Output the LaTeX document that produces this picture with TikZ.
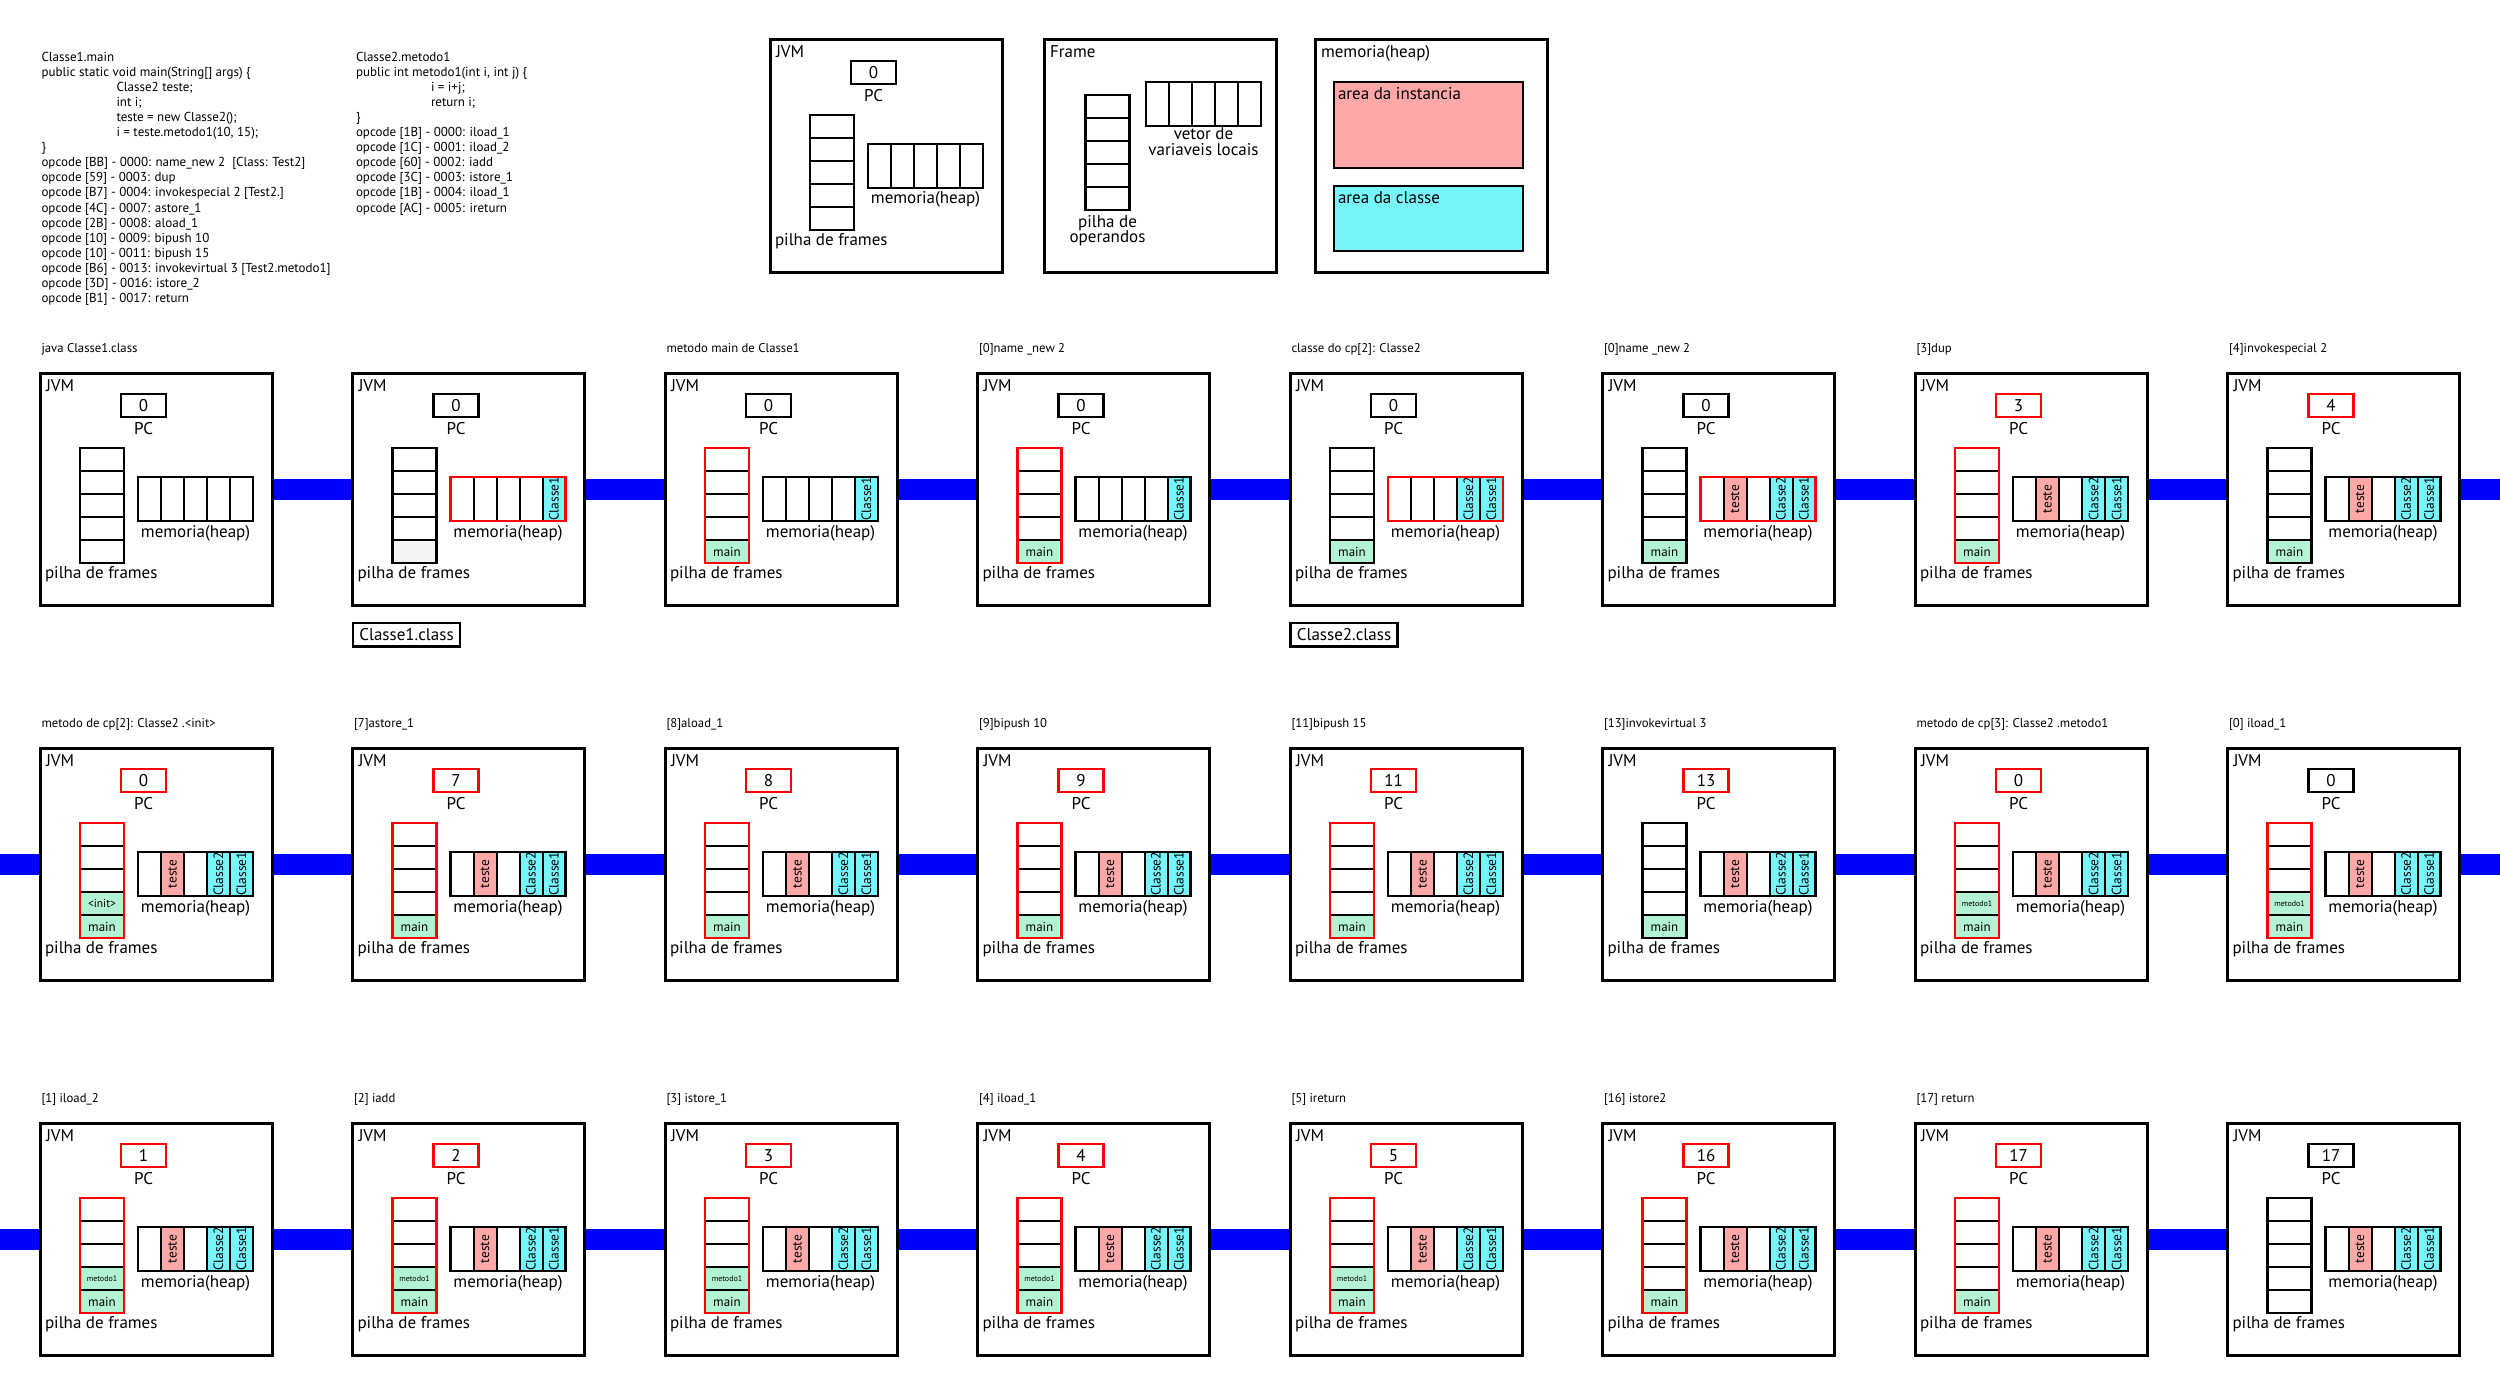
\documentclass[tikz,border=0pt]{standalone}
\usepackage{fontspec}
\setmainfont{PT Sans}
\pgfdeclarelayer{bg}
\pgfsetlayers{bg,main}
\definecolor{mint}{RGB}{180,242,212}
\definecolor{pinkc}{RGB}{255,168,168}
\definecolor{cyanc}{RGB}{120,245,250}
\definecolor{barblue}{RGB}{0,0,255}
\definecolor{grayc}{RGB}{244,244,244}
\tikzset{
 every node/.style={inner sep=0pt, outer sep=0pt},
 jvmbox/.style={draw, line width=3pt, minimum width=232pt, minimum height=232pt},
 boxtxt/.style={font=\fontsize{17}{17}\selectfont},
 steplbl/.style={font=\fontsize{12.7}{13}\selectfont, anchor=base west},
 codetxt/.style={font=\fontsize{13}{15}\selectfont, anchor=base west},
 pcbox/.style={draw, line width=2.5pt, minimum width=45pt, minimum height=23pt, font=\fontsize{17}{17}\selectfont},
 scell/.style={draw, line width=2pt, minimum width=44pt, minimum height=23pt},
 hcell/.style={draw, line width=2pt, minimum width=23pt, minimum height=44pt, font=\fontsize{13.5}{13.5}\selectfont},
 outline/.style={line width=2.5pt},
 filebox/.style={draw, line width=2.5pt, minimum width=107pt, minimum height=23.5pt, anchor=north west, font=\fontsize{17}{17}\selectfont},
 bar/.style={draw=barblue, line width=21pt},
}
% stack contents
\newcommand\Main{\node[scell, fill=mint, font=\fontsize{13}{13}\selectfont] (\cur-f5) at (62,178.5) {main};}
\newcommand\InitMain{\Main\node[scell, fill=mint, font=\fontsize{11.5}{11.5}\selectfont] (\cur-f4) at (62,155.5) {<init>};}
\newcommand\MetMain{\Main\node[scell, fill=mint, font=\fontsize{8}{8}\selectfont] (\cur-f4) at (62,155.5) {metodo1};}
\newcommand\GrayB{\node[scell, fill=grayc] (\cur-f5) at (62,178.5) {};}
% heap contents
\newcommand\Hone{\node[hcell, fill=cyanc] (\cur-c1) at (201.5,126) {\rotatebox{90}{Classe1}};}
\newcommand\Htwo{\Hone\node[hcell, fill=cyanc] (\cur-c2) at (178.5,126) {\rotatebox{90}{Classe2}};}
\newcommand\Hthree{\Htwo\node[hcell, fill=pinkc] (\cur-te) at (132.5,126) {\rotatebox{90}{teste}};}
% #1 name, #2 x, #3 y, #4 pc, #5 pc colour, #6 stack colour, #7 stack content, #8 heap colour, #9 heap content
\newcommand\jvmstate[9]{%
 \def\cur{#1}%
 \begin{scope}[shift={(#2,#3)}]
  \node[jvmbox] (#1) at (116,116) {};
  \node[boxtxt, anchor=base west] (#1-jvm) at (6,18) {JVM};
  \node[pcbox, draw=#5] (#1-pc) at (103.5,32.5) {#4};
  \node[boxtxt, anchor=base] (#1-pcl) at (103.5,61.5) {PC};
  \foreach \i in {1,...,5}{\node[scell] (#1-s\i) at (62,{63.5+23*\i}) {};}
  #7
  \draw[outline, draw=#6] (#1-s1.north west) rectangle (#1-s5.south east);
  \foreach \j in {1,...,5}{\node[hcell] (#1-h\j) at ({86.5+23*\j},126) {};}
  #9
  \draw[outline, draw=#8] (#1-h1.north west) rectangle (#1-h5.south east);
  \node[boxtxt, anchor=base] (#1-hl) at (155.5,164) {memoria(heap)};
  \node[boxtxt, anchor=base west] (#1-pl) at (5,205) {pilha de frames};
 \end{scope}}
\begin{document}
\begin{tikzpicture}[x=1pt, y=-1pt]
\useasboundingbox (0,0) rectangle (2500,1375);
% code listings
\foreach \t [count=\n] in {{Classe1.main},{public static void main(String[] args) \{},{\hspace*{75pt}Classe2 teste;},{\hspace*{75pt}int i;},{\hspace*{75pt}teste = new Classe2();},{\hspace*{75pt}i = teste.metodo1(10, 15);},{\}},{opcode [BB] - 0000: name\_new 2\ \ [Class: Test2]},{opcode [59] - 0003: dup},{opcode [B7] - 0004: invokespecial 2 [Test2.]},{opcode [4C] - 0007: astore\_1},{opcode [2B] - 0008: aload\_1},{opcode [10] - 0009: bipush 10},{opcode [10] - 0011: bipush 15},{opcode [B6] - 0013: invokevirtual 3 [Test2.metodo1]},{opcode [3D] - 0016: istore\_2},{opcode [B1] - 0017: return}}
  {\node[codetxt] (codeA\n) at (41.5,{62+15*(\n-1)}) {\t};}
\foreach \t [count=\n] in {{Classe2.metodo1},{public int metodo1(int i, int j) \{},{\hspace*{75pt}i = i+j;},{\hspace*{75pt}return i;},{\}},{opcode [1B] - 0000: iload\_1},{opcode [1C] - 0001: iload\_2},{opcode [60] - 0002: iadd},{opcode [3C] - 0003: istore\_1},{opcode [1B] - 0004: iload\_1},{opcode [AC] - 0005: ireturn}}
  {\node[codetxt] (codeB\n) at (356,{62+15*(\n-1)}) {\t};}
% legend: JVM
\jvmstate{legjvm}{770}{40}{0}{black}{black}{}{black}{}
% legend: Frame
\begin{scope}[shift={(1044,40)}]
 \node[jvmbox] (frame) at (116,116) {};
 \node[boxtxt, anchor=base west] (frame-t) at (6,18) {Frame};
 \foreach \i in {1,...,5}{\node[scell] (frame-s\i) at (63.5,{43.5+23*\i}) {};}
 \draw[outline] (frame-s1.north west) rectangle (frame-s5.south east);
 \node[boxtxt, anchor=base] (frame-p1) at (63.5,187) {pilha de};
 \node[boxtxt, anchor=base] (frame-p2) at (63.5,203) {operandos};
 \foreach \j in {1,...,5}{\node[hcell] (frame-v\j) at ({90.5+23*\j},64) {};}
 \draw[outline] (frame-v1.north west) rectangle (frame-v5.south east);
 \node[boxtxt, anchor=base] (frame-v1t) at (159.5,100) {vetor de};
 \node[boxtxt, anchor=base] (frame-v2t) at (159.5,116) {variaveis locais};
\end{scope}
% legend: heap
\begin{scope}[shift={(1315,40)}]
 \node[jvmbox] (heapleg) at (116,116) {};
 \node[boxtxt, anchor=base west] (heapleg-t) at (6,18) {memoria(heap)};
 \node[draw, line width=2.5pt, fill=pinkc, minimum width=189pt, minimum height=86pt, anchor=north west] (inst) at (19,42) {};
 \node[boxtxt, anchor=base west] (inst-t) at (23,60) {area da instancia};
 \node[draw, line width=2.5pt, fill=cyanc, minimum width=189pt, minimum height=65pt, anchor=north west] (cls) at (19,146) {};
 \node[boxtxt, anchor=base west] (cls-t) at (23,164) {area da classe};
\end{scope}
% row 1
\jvmstate{a1}{40}{373}{0}{black}{black}{}{black}{}
\jvmstate{a2}{352.5}{373}{0}{black}{black}{\GrayB}{red}{\Hone}
\jvmstate{a3}{665}{373}{0}{black}{red}{\Main}{black}{\Hone}
\jvmstate{a4}{977.5}{373}{0}{black}{red}{\Main}{black}{\Hone}
\jvmstate{a5}{1290}{373}{0}{black}{black}{\Main}{red}{\Htwo}
\jvmstate{a6}{1602.5}{373}{0}{black}{black}{\Main}{red}{\Hthree}
\jvmstate{a7}{1915}{373}{3}{red}{red}{\Main}{black}{\Hthree}
\jvmstate{a8}{2227.5}{373}{4}{red}{black}{\Main}{black}{\Hthree}
% row 2
\jvmstate{b1}{40}{748}{0}{red}{red}{\InitMain}{black}{\Hthree}
\jvmstate{b2}{352.5}{748}{7}{red}{red}{\Main}{black}{\Hthree}
\jvmstate{b3}{665}{748}{8}{red}{red}{\Main}{black}{\Hthree}
\jvmstate{b4}{977.5}{748}{9}{red}{red}{\Main}{black}{\Hthree}
\jvmstate{b5}{1290}{748}{11}{red}{red}{\Main}{black}{\Hthree}
\jvmstate{b6}{1602.5}{748}{13}{red}{black}{\Main}{black}{\Hthree}
\jvmstate{b7}{1915}{748}{0}{red}{red}{\MetMain}{black}{\Hthree}
\jvmstate{b8}{2227.5}{748}{0}{black}{red}{\MetMain}{black}{\Hthree}
% row 3
\jvmstate{c1}{40}{1123}{1}{red}{red}{\MetMain}{black}{\Hthree}
\jvmstate{c2}{352.5}{1123}{2}{red}{red}{\MetMain}{black}{\Hthree}
\jvmstate{c3}{665}{1123}{3}{red}{red}{\MetMain}{black}{\Hthree}
\jvmstate{c4}{977.5}{1123}{4}{red}{red}{\MetMain}{black}{\Hthree}
\jvmstate{c5}{1290}{1123}{5}{red}{red}{\MetMain}{black}{\Hthree}
\jvmstate{c6}{1602.5}{1123}{16}{red}{red}{\Main}{black}{\Hthree}
\jvmstate{c7}{1915}{1123}{17}{red}{red}{\Main}{black}{\Hthree}
\jvmstate{c8}{2227.5}{1123}{17}{black}{black}{}{black}{\Hthree}
% step labels
\node[steplbl] (la1) at (41.5,352) {java Classe1.class};
\node[steplbl] (la3) at (666.5,352) {metodo main de Classe1};
\node[steplbl] (la4) at (979,352) {[0]name \_new 2};
\node[steplbl] (la5) at (1291.5,352) {classe do cp[2]: Classe2};
\node[steplbl] (la6) at (1604,352) {[0]name \_new 2};
\node[steplbl] (la7) at (1916.5,352) {[3]dup};
\node[steplbl] (la8) at (2229,352) {[4]invokespecial 2};
\node[steplbl] (lb1) at (41.5,727) {metodo de cp[2]: Classe2 .<init>};
\node[steplbl] (lb2) at (354,727) {[7]astore\_1};
\node[steplbl] (lb3) at (666.5,727) {[8]aload\_1};
\node[steplbl] (lb4) at (979,727) {[9]bipush 10};
\node[steplbl] (lb5) at (1291.5,727) {[11]bipush 15};
\node[steplbl] (lb6) at (1604,727) {[13]invokevirtual 3};
\node[steplbl] (lb7) at (1916.5,727) {metodo de cp[3]: Classe2 .metodo1};
\node[steplbl] (lb8) at (2229,727) {[0] iload\_1};
\node[steplbl] (lc1) at (41.5,1102) {[1] iload\_2};
\node[steplbl] (lc2) at (354,1102) {[2] iadd};
\node[steplbl] (lc3) at (666.5,1102) {[3] istore\_1};
\node[steplbl] (lc4) at (979,1102) {[4] iload\_1};
\node[steplbl] (lc5) at (1291.5,1102) {[5] ireturn};
\node[steplbl] (lc6) at (1604,1102) {[16] istore2};
\node[steplbl] (lc7) at (1916.5,1102) {[17] return};
% class files
\node[filebox] (file1) at (353,623) {Classe1.class};
\node[filebox] (file2) at (1290.5,623) {Classe2.class};
% connectors
\coordinate (a-end) at (2500,489);
\coordinate (b-start) at (0,864);
\coordinate (b-end) at (2500,864);
\coordinate (c-start) at (0,1239);
\begin{pgfonlayer}{bg}
 \foreach \r in {a,b,c}{\foreach \p/\q in {1/2,2/3,3/4,4/5,5/6,6/7,7/8}{\draw[bar] (\r\p.east) -- (\r\q.west);}}
 \draw[bar] (a8.east) -- (a-end);
 \draw[bar] (b-start) -- (b1.west);
 \draw[bar] (b8.east) -- (b-end);
 \draw[bar] (c-start) -- (c1.west);
\end{pgfonlayer}
\end{tikzpicture}
\end{document}
